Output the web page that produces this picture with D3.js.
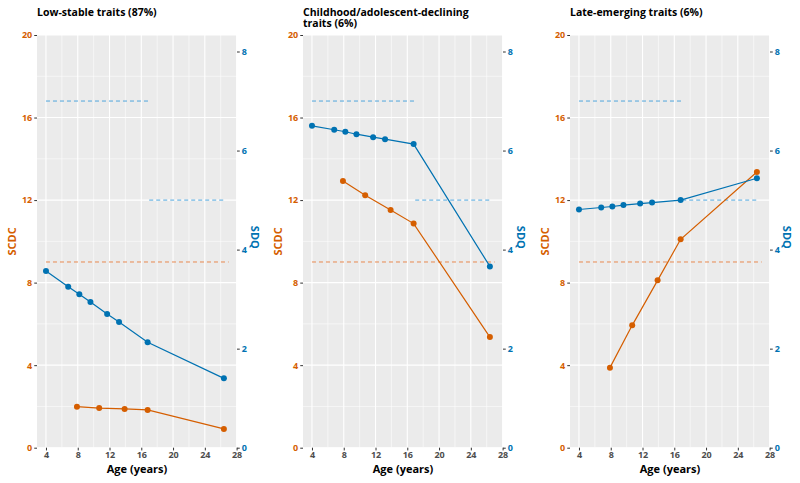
<!DOCTYPE html>
<html>
<head>
<meta charset="utf-8">
<script src="https://cdn.jsdelivr.net/npm/d3@7"></script>
<style>
  html, body { margin: 0; padding: 0; background: #fff; }
  svg { display: block; font-family: "Open Sans", "Noto Sans", sans-serif; }
</style>
</head>
<body>
<svg id="chart" width="800" height="483"></svg>
<script>
// ---------- data ----------
const panelTitles = [
  ["Low-stable traits (87%)"],
  ["Childhood/adolescent-declining", "traits (6%)"],
  ["Late-emerging traits (6%)"]
];
const ageSCDC = [7.9, 10.7, 13.9, 16.8, 26.4];
const ageSDQ = [4.0, 6.8, 8.2, 9.6, 11.7, 13.2, 16.8, 26.4];
const scdcLowStable = [1.99, 1.92, 1.88, 1.83, 0.91];
const scdcDeclining = [12.92, 12.23, 11.52, 10.86, 5.36];
const scdcLate = [3.88, 5.93, 8.11, 10.10, 13.36];
const sdqLowStable = [3.57, 3.25, 3.10, 2.94, 2.70, 2.54, 2.13, 1.40];
const sdqDeclining = [6.50, 6.42, 6.38, 6.33, 6.27, 6.23, 6.13, 3.66];
const sdqLate = [4.81, 4.85, 4.87, 4.90, 4.93, 4.95, 5.00, 5.44];
const xTicks = [4, 8, 12, 16, 20, 24, 28];
const xMinor = [6, 10, 14, 18, 22, 26];
const scdcTicks = [0, 4, 8, 12, 16, 20];
const scdcMinor = [2, 6, 10, 14, 18];
const sdqTicks = [0, 2, 4, 6, 8];
const sdqScale = 2.4; // SDQ = SCDC / 2.4 (secondary axis)
const scdcCutoff = [{ from: 4, to: 27, value: 9 }];
const sdqCutoffs = [{ from: 4, to: 17, value: 7 }, { from: 17, to: 26.6, value: 5 }];

const scdcSeries = [scdcLowStable, scdcDeclining, scdcLate];
const sdqSeries = [sdqLowStable, sdqDeclining, sdqLate];

// ---------- style ----------
const orange = "#D55E00", blue = "#0072B2";
const orangeDash = "#E8894F", blueDash = "#4FA5DC";
const panelLefts = [37, 303, 570];
const sdqTitleOffset = [18, 18, 17];
const panelW = 200, pTop = 35, pBottom = 447.7;

const svg = d3.select("#chart");

panelLefts.forEach((left, i) => {
  const x = d3.scaleLinear().domain([2.87, 28.05]).range([left, left + panelW]);
  const y = d3.scaleLinear().domain([0, 20]).range([pBottom, pTop]);
  const y2 = d3.scaleLinear().domain([0, 20 / sdqScale]).range([pBottom, pTop]);
  const g = svg.append("g");

  g.append("rect").attr("x", left).attr("y", pTop).attr("width", panelW).attr("height", pBottom - pTop).attr("fill", "#EBEBEB");
  g.selectAll(".hmin").data(scdcMinor).join("line")
    .attr("x1", left).attr("x2", left + panelW).attr("y1", d => y(d)).attr("y2", d => y(d))
    .attr("stroke", "#fff").attr("stroke-width", 0.55);
  g.selectAll(".vmin").data(xMinor).join("line")
    .attr("y1", pTop).attr("y2", pBottom).attr("x1", d => x(d)).attr("x2", d => x(d))
    .attr("stroke", "#fff").attr("stroke-width", 0.55);
  g.selectAll(".hmaj").data(scdcTicks).join("line")
    .attr("x1", left).attr("x2", left + panelW).attr("y1", d => y(d)).attr("y2", d => y(d))
    .attr("stroke", "#fff").attr("stroke-width", 1.1);
  g.selectAll(".vmaj").data(xTicks).join("line")
    .attr("y1", pTop).attr("y2", pBottom).attr("x1", d => x(d)).attr("x2", d => x(d))
    .attr("stroke", "#fff").attr("stroke-width", 1.1);

  scdcCutoff.forEach(c => {
    g.append("line").attr("x1", x(c.from)).attr("x2", x(c.to)).attr("y1", y(c.value)).attr("y2", y(c.value))
      .attr("stroke", orangeDash).attr("stroke-width", 1).attr("stroke-dasharray", "4,3");
  });
  sdqCutoffs.forEach(c => {
    g.append("line").attr("x1", x(c.from)).attr("x2", x(c.to)).attr("y1", y2(c.value)).attr("y2", y2(c.value))
      .attr("stroke", blueDash).attr("stroke-width", 1).attr("stroke-dasharray", "4,3");
  });

  const scdcPts = ageSCDC.map((a, k) => [a, scdcSeries[i][k]]);
  const sdqPts = ageSDQ.map((a, k) => [a, sdqSeries[i][k]]);
  g.append("path").datum(scdcPts)
    .attr("d", d3.line().x(d => x(d[0])).y(d => y(d[1])))
    .attr("fill", "none").attr("stroke", orange).attr("stroke-width", 1.2);
  g.selectAll(".ps").data(scdcPts).join("circle")
    .attr("cx", d => x(d[0])).attr("cy", d => y(d[1])).attr("r", 3).attr("fill", orange);
  g.append("path").datum(sdqPts)
    .attr("d", d3.line().x(d => x(d[0])).y(d => y2(d[1])))
    .attr("fill", "none").attr("stroke", blue).attr("stroke-width", 1.2);
  g.selectAll(".pq").data(sdqPts).join("circle")
    .attr("cx", d => x(d[0])).attr("cy", d => y2(d[1])).attr("r", 3).attr("fill", blue);

  const styleAxis = (sel, color) => {
    sel.select(".domain").remove();
    sel.selectAll(".tick line").attr("stroke", "#333").attr("stroke-width", 1);
    sel.selectAll(".tick text").attr("fill", color).attr("font-weight", "bold")
      .attr("font-size", 9).attr("font-family", "'Open Sans', sans-serif");
  };
  const ax = g.append("g").attr("transform", `translate(0,${pBottom})`)
    .call(d3.axisBottom(x).tickValues(xTicks).tickSize(2.75).tickPadding(1.5));
  styleAxis(ax, "#4D4D4D");
  const ayl = g.append("g").attr("transform", `translate(${left},0)`)
    .call(d3.axisLeft(y).tickValues(scdcTicks).tickSize(2.75).tickPadding(2));
  styleAxis(ayl, orange);
  const ayr = g.append("g").attr("transform", `translate(${left + panelW},0)`)
    .call(d3.axisRight(y2).tickValues(sdqTicks).tickSize(2.75).tickPadding(2));
  styleAxis(ayr, blue);

  g.append("text").attr("x", left + panelW / 2).attr("y", 473)
    .attr("text-anchor", "middle").attr("font-weight", "bold").attr("font-size", 11).attr("fill", "#000")
    .text("Age (years)");
  g.append("text").attr("transform", `translate(${left - 21},${(pTop + pBottom) / 2}) rotate(-90)`)
    .attr("text-anchor", "middle").attr("font-weight", "bold").attr("font-size", 11).attr("fill", orange)
    .text("SCDC");
  g.append("text").attr("transform", `translate(${left + panelW + sdqTitleOffset[i] - 4},${(pTop + pBottom) / 2 - 4}) rotate(90)`)
    .attr("text-anchor", "middle").attr("font-weight", "bold").attr("font-size", 11).attr("fill", blue)
    .text("SDQ");

  panelTitles[i].forEach((line, k) => {
    g.append("text").attr("x", left).attr("y", 16.3 + k * 11)
      .attr("font-weight", "bold").attr("font-size", 10.5).attr("fill", "#000").text(line);
  });
});
</script>
</body>
</html>
